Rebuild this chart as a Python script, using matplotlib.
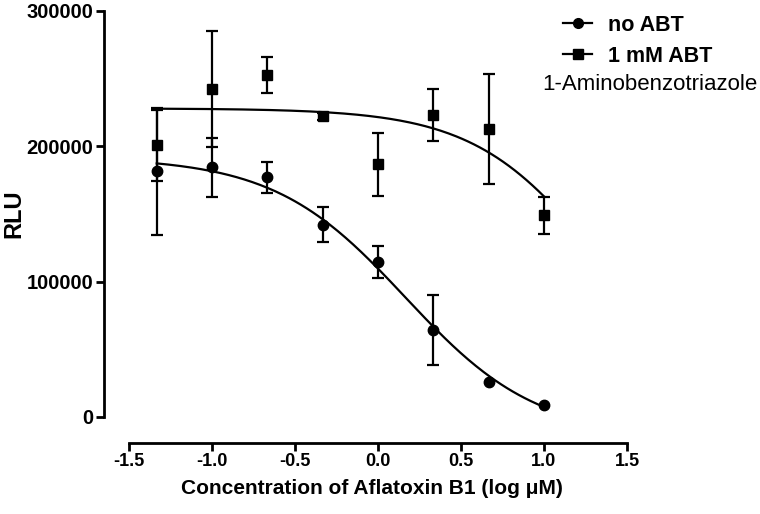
import numpy as np
import matplotlib
matplotlib.use("Agg")
from matplotlib import pyplot as plt

plt.rcParams['font.family'] = ['Liberation Sans', 'DejaVu Sans']

# datos (log uM)
log_conc = [-1.333, -1.0, -0.667, -0.333, 0.0, 0.333, 0.667, 1.0]
rlu_noABT = [181500, 184400, 177000, 142200, 114800, 64400, 25900, 8900]
err_noABT = [46700, 22000, 11500, 12600, 11800, 25900, np.nan, np.nan]  # nan = barra oculta por el marcador
rlu_ABT = [200700, 242200, 252600, 222200, 186700, 223000, 212600, 148900]
err_ABT = [26000, 43000, 13500, 2500, 23300, 19000, 40700, 14000]

# parametros del ajuste sigmoidal (top, bottom, logIC50, hill)
fit_noABT = [192000, -15000, 0.164, 1.096]
fit_ABT = [228000, 0, 1.35, 1.14]

def sigmoide(x, p):
    top, bot, c, h = p
    return bot + (top - bot) / (1 + 10 ** ((x - c) * h))

fig = plt.figure(figsize=(7.6, 5.14), dpi=100)
ax = fig.add_axes([104/760, 1 - 443/514, (627-104)/760, (443-11)/514])

xc = np.linspace(log_conc[0], log_conc[-1], 200)
ax.plot(xc, sigmoide(xc, fit_noABT), color='k', lw=1.6, clip_on=False)
ax.plot(xc, sigmoide(xc, fit_ABT), color='k', lw=1.6, clip_on=False)

ax.errorbar(log_conc, rlu_noABT, yerr=err_noABT, fmt='o', color='k', ms=7.5,
            elinewidth=1.6, capsize=4.5, capthick=1.6, clip_on=False)
ax.errorbar(log_conc, rlu_ABT, yerr=err_ABT, fmt='s', color='k', ms=7.5,
            elinewidth=1.6, capsize=4.5, capthick=1.6, clip_on=False)

ax.set_xlim(-1.5 - 25/166, 1.5)
ax.set_ylim(-26/135*1e5, 300000)
for s in ['top', 'right']:
    ax.spines[s].set_visible(False)
ax.spines['left'].set_bounds(0, 300000)
ax.spines['bottom'].set_bounds(-1.5, 1.5)
ax.spines['left'].set_linewidth(2)
ax.spines['bottom'].set_linewidth(2)
ax.set_xticks([-1.5, -1.0, -0.5, 0.0, 0.5, 1.0, 1.5])
ax.set_xticklabels(['-1.5', '-1.0', '-0.5', '0.0', '0.5', '1.0', '1.5'])
ax.set_yticks([0, 100000, 200000, 300000])
ax.set_yticklabels(['0', '100000', '200000', '300000'])
ax.tick_params(width=2, length=5.5, pad=2)
ax.tick_params(axis='x', labelsize=13)
ax.tick_params(axis='y', labelsize=14.5)
for lb in ax.get_xticklabels() + ax.get_yticklabels():
    lb.set_fontweight('bold')

fig.text(14/760, 1 - 214/514, 'RLU', rotation=90, ha='center', va='center',
         fontsize=17, fontweight='bold')
fig.text(372/760, 1 - 489/514, 'Concentration of Aflatoxin B1 (log \u03bcM)',
         ha='center', va='center', fontsize=15, fontweight='bold')

# leyenda
h1, = ax.plot([], [], 'o-', color='k', ms=7, lw=1.6)
h2, = ax.plot([], [], 's-', color='k', ms=7, lw=1.6)
leg = fig.legend([h1, h2], ['no ABT', '1 mM ABT'], loc='upper left',
                 bbox_to_anchor=(563/760, 1 - 15/514), frameon=False,
                 borderaxespad=0, borderpad=0,
                 handlelength=1.35, handletextpad=0.75, labelspacing=0.45,
                 prop={'size': 15.5, 'weight': 'bold'})
fig.text(542/760, 1 - 85/514, '1-Aminobenzotriazole', ha='left', va='center',
         fontsize=16)

plt.savefig('out.png', dpi=100)
